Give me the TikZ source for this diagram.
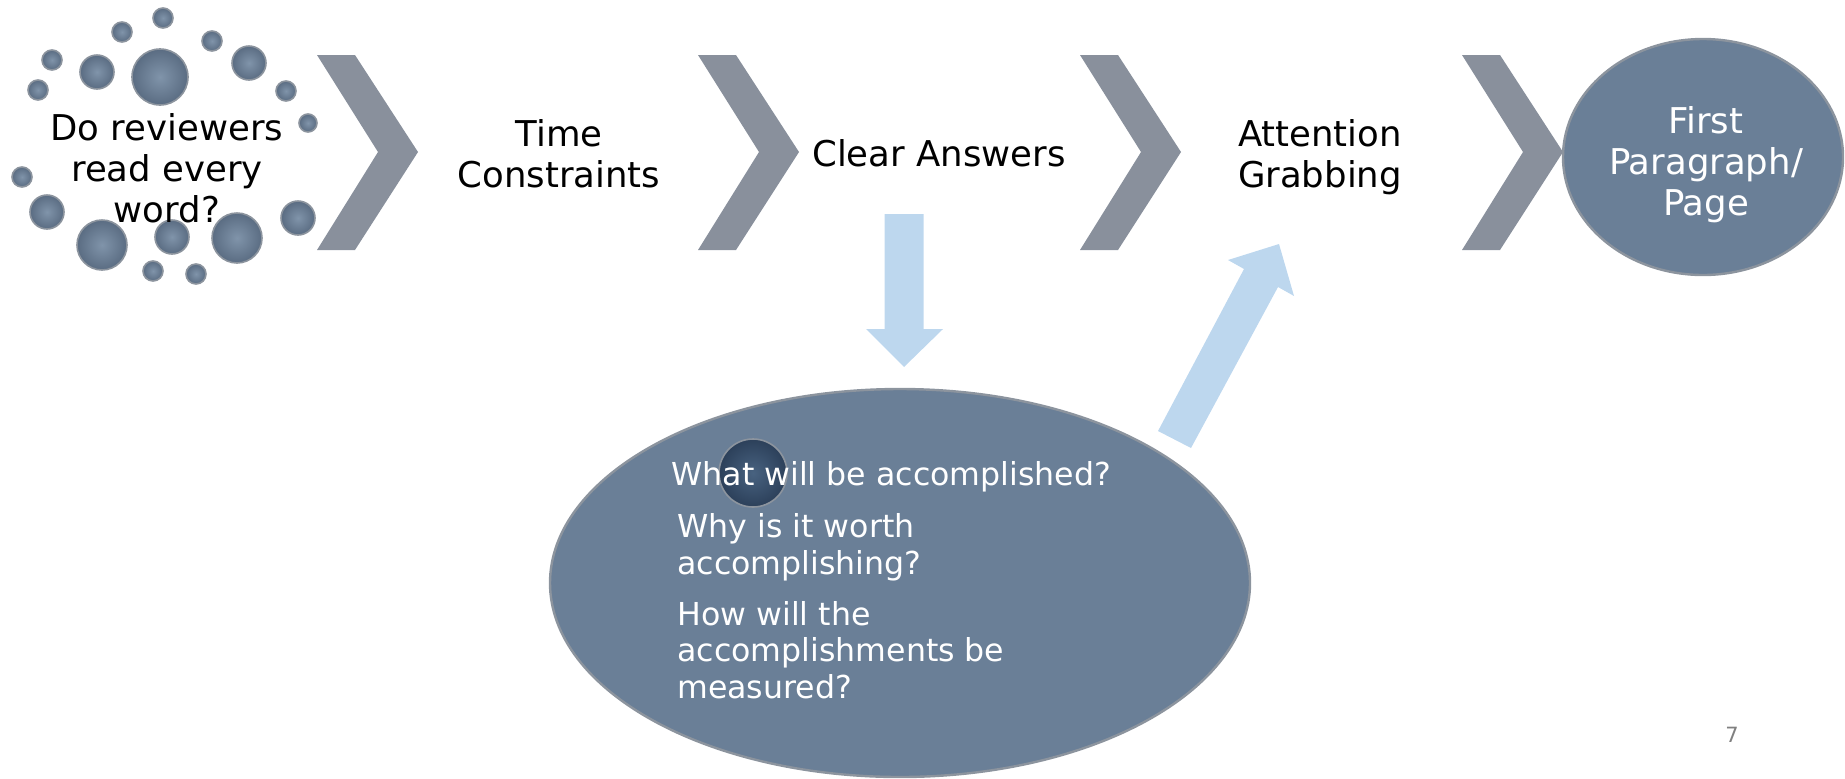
\documentclass[tikz,border=0pt]{standalone}
\usepackage{fontspec}
\setmainfont{DejaVu Sans}
\usetikzlibrary{shapes.geometric}
\definecolor{chev}{RGB}{137,144,156}
\definecolor{slate}{RGB}{106,127,151}
\definecolor{slatelt}{RGB}{128,148,170}
\definecolor{slatedk}{RGB}{90,108,130}
\definecolor{ablue}{RGB}{189,215,238}
\definecolor{rim}{RGB}{140,148,158}
\definecolor{darkin}{RGB}{72,98,128}
\definecolor{darkout}{RGB}{44,64,90}
\begin{document}
\begin{tikzpicture}[x=0.5pt,y=-0.5pt,
  bub/.style={circle,inner sep=0pt,draw=rim,line width=0.8pt,inner color=slatelt,outer color=slatedk},
  chevshape/.style={fill=chev,draw=none},
  lbl/.style={font=\fontsize{17.75}{20.5}\selectfont,align=center,text=black},
  wlbl/.style={font=\fontsize{17.75}{20.5}\selectfont,align=center,text=white},
  qlbl/.style={font=\fontsize{15.8}{18.3}\selectfont,align=left,text=white,anchor=west,inner sep=0pt},
  bigell/.style={ellipse,inner sep=0pt,fill=slate,draw=rim,line width=1.2pt},
  barrow/.style={fill=ablue,draw=none}]
\useasboundingbox (0,0) rectangle (1845,778);

% bubbles around the first question
\foreach \x/\y/\r [count=\i] in {163/18/10,122/32/10,52/60/10,38/90/10,97/72/17,160/77/28,212/41/10,249/63/17,286/91/10,308/123/9,22/177/10,47/212/17,102/245/25,172/237/17,237/238/25,298/218/17,153/271/10,196/274/10}
  \node[bub,minimum size=\r pt] (b\i) at (\x,\y) {};

% chevrons
\foreach \cx [count=\i] in {317,698,1080,1462}
  \fill[chevshape] (\cx,55) -- ++(38,0) -- ++(63,97) -- ++(-63,98) -- ++(-38,0) -- ++(61,-98) -- cycle;

% labels of the steps
\node[lbl] (q0) at (167,168) {Do reviewers\\read every\\word?};
\node[lbl] (tc) at (559,154) {Time\\Constraints};
\node[lbl] (ca) at (939,153) {Clear Answers};
\node[lbl] (ag) at (1320,157) {Attention\\Grabbing};

% final ellipse
\node[bigell,minimum width=140pt,minimum height=118pt] (fp) at (1703,157) {};
\node[wlbl] (fpt) at (1706,165) {First\\Paragraph/\\Page};

% big ellipse with questions
\node[bigell,minimum width=350pt,minimum height=194pt] (qe) at (900,583) {};
\node[circle,inner sep=0pt,minimum size=34pt,draw=rim,line width=0.8pt,inner color=darkin,outer color=darkout] (dot) at (753,473) {};
\node[qlbl] (w1) at (671,477) {What will be accomplished?};
\node[qlbl] (w2) at (677,547) {Why is it worth\\accomplishing?};
\node[qlbl] (w3) at (677,650) {How will the\\accomplishments be\\measured?};

% block arrows
\coordinate (dtop) at (904,214);
\coordinate (dtip) at (904,367);
\fill[barrow] ([xshift=-9.75pt]dtop) -- ([xshift=9.75pt]dtop) -- ([xshift=9.75pt,yshift=19pt]dtip) -- ([xshift=19.5pt,yshift=19pt]dtip) -- (dtip) -- ([xshift=-19pt,yshift=19pt]dtip) -- ([xshift=-9.75pt,yshift=19pt]dtip) -- cycle;
\coordinate (ubase) at (1175,440);
\coordinate (utip) at (1279,244);
\fill[barrow] (1158,431) -- (1244,269) -- (1228,260) -- (utip) -- (1294,296) -- (1278,287) -- (1191,448) -- cycle;

% page number
\node[font=\fontsize{10.5}{12}\selectfont,text=gray] (pg) at (1732,735) {7};
\end{tikzpicture}
\end{document}
